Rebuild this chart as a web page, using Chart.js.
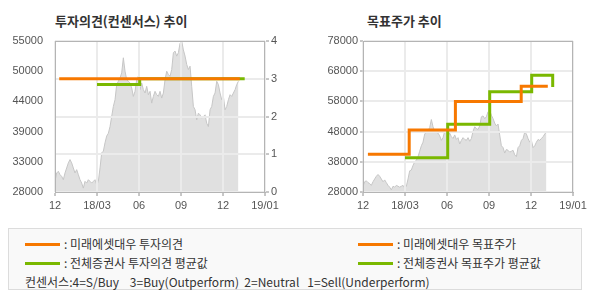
<!DOCTYPE html>
<html>
<head>
<meta charset="utf-8">
<script src="https://cdn.jsdelivr.net/npm/chart.js@4.4.1/dist/chart.umd.min.js"></script>
<style>
    body { margin: 0; width: 590px; height: 300px; background: #fff; position: relative; overflow: hidden;
           font-family: 'Noto Sans CJK KR', sans-serif; }
    .panel { position: absolute; top: 0; width: 295px; height: 222px; }
    .title { position: absolute; top: 11px; font-size: 13px; font-weight: bold; color: #333; white-space: nowrap; }
    .legend { position: absolute; left: 8px; top: 228px; width: 572px; height: 60px; border: 1px solid #dcdcdc;
              background: #f9f9f9; font-size: 12px; color: #333; }
    .item { position: absolute; height: 16px; line-height: 16px; white-space: pre; }
    .ln { display: inline-block; width: 35px; height: 3px; vertical-align: middle; margin-right: 4px; position: relative; top: -1px; }
</style>
</head>
<body>
<div class="title" style="left:55px">투자의견(컨센서스) 추이</div>
<div class="title" style="left:367px">목표주가 추이</div>
<div class="panel" style="left:0"><canvas id="opinionChart" width="295" height="222"></canvas></div>
<div class="panel" style="left:295px"><canvas id="targetChart" width="295" height="222"></canvas></div>
<div class="legend">
    <div class="item" style="left:16px;top:7px"><span class="ln" style="background:#f77800"></span>: 미래에셋대우 투자의견</div>
    <div class="item" style="left:16px;top:26px"><span class="ln" style="background:#7ab800"></span>: 전체증권사 투자의견 평균값</div>
    <div class="item" style="left:349px;top:7px"><span class="ln" style="background:#f77800"></span>: 미래에셋대우 목표주가</div>
    <div class="item" style="left:349px;top:26px"><span class="ln" style="background:#7ab800"></span>: 전체증권사 목표주가 평균값</div>
    <div class="item" style="left:16px;top:45px">컨센서스:4=S/Buy    3=Buy(Outperform)  2=Neutral   1=Sell(Underperform)</div>
</div>
<script>
// x axis runs in months from 2017/12 (0) to 2019/03 (15)
const xTickLabels = ['12', '18/03', '06', '09', '12', '19/01'];
const opinionTickLabels = ['28000', '33000', '39000', '44000', '50000', '55000'];
const targetTickLabels = ['28000', '38000', '48000', '58000', '68000', '78000'];

// closing price, evenly spaced from month 0 to priceEndMonth
const priceEndMonth = 13.1;
const prices = [
    29900, 31400, 31700, 31100, 30800, 30200, 31400, 32300, 33200, 33800,
    33200, 32300, 31400, 32000, 31100, 30200, 29600, 28700, 29900, 29600,
    30200, 29900, 29600, 29900, 30200, 29300, 29900, 32300, 35000, 35300,
    36800, 38000, 38500, 39700, 41500, 43300, 44500, 47200, 47800, 48400,
    49300, 52000, 49600, 48100, 47800, 47500, 46600, 45100, 46000, 48100,
    48700, 46300, 47500, 46300, 45700, 46900, 45400, 46000, 43900, 45100,
    46000, 45400, 45100, 46000, 44800, 45700, 48100, 49600, 49000, 48700,
    49900, 52900, 53200, 52300, 52900, 54600, 55000, 53400, 52300, 50800,
    49900, 50500, 46900, 43300, 42700, 40900, 42100, 41800, 41200, 41500,
    41800, 40300, 39700, 42700, 43300, 45100, 45700, 47800, 47200, 45700,
    44500, 45100, 42700, 43300, 44500, 45400, 45100, 45700, 46300, 47200,
    47800
];

// investment opinion (right axis, 0-4)
const miraeOpinionX = [0.3, 13.2];
const miraeOpinion = [3, 3];
const avgOpinionX = [3.0, 6.05, 13.55];
const avgOpinion = [2.85, 3, 3];

// target price
const miraeTargetX = [0.35, 3.3, 6.6, 11.3, 13.2];
const miraeTarget = [40500, 48500, 58000, 63000, 63000];
const avgTargetX = [3.0, 6.05, 9.05, 12.05, 13.55];
const avgTarget = [39300, 50400, 61200, 66700, 62800];

const ORANGE = '#f77800';
const GREEN = '#7ab800';
const GRID = '#ebebeb';
const AXIS = '#b4b4b4';
const TICK_FONT = { family: "'Liberation Sans', Arial, sans-serif", size: 11 };
const TICK_COLOR = '#555';

const pricePoints = prices.map((p, i) => ({ x: i * priceEndMonth / (prices.length - 1), y: p }));
const zip = (xs, ys) => xs.map((x, i) => ({ x, y: ys[i] }));

function fixSize(prop, value) {
    return scale => { scale[prop] = value; };
}

// grid is drawn over the price area, below the lines; frame around the plot
const gridOverArea = {
    id: 'gridOverArea',
    afterDatasetDraw(chart, args) {
        if (args.meta.label !== 'price') return;
        Object.values(chart.scales).forEach(s => {
            if (s.options.grid.display) s.drawGrid(chart.chartArea);
        });
    },
    afterDatasetsDraw(chart) {
        const a = chart.chartArea;
        const ctx = chart.ctx;
        ctx.save();
        ctx.strokeStyle = AXIS;
        ctx.lineWidth = 1;
        ctx.strokeRect(Math.round(a.left) + 0.5, Math.round(a.top) + 0.5,
            Math.round(a.right - a.left) - 1, Math.round(a.bottom - a.top));
        ctx.restore();
    }
};

function lineSet(label, points, color, axis) {
    return {
        label, data: points, borderColor: color, borderWidth: 3, pointRadius: 0,
        stepped: 'before', fill: false, yAxisID: axis
    };
}

function priceSet(axis) {
    return {
        label: 'price', data: pricePoints, borderColor: '#c6c6c6', borderWidth: 1,
        backgroundColor: '#e0e0e0', fill: 'start', pointRadius: 0, tension: 0, yAxisID: axis
    };
}

const xScale = {
    type: 'linear', min: 0, max: 15,
    afterBuildTicks: s => { s.ticks = xTickLabels.map((_, i) => ({ value: i * 3 })); },
    afterFit: fixSize('height', 30),
    ticks: { font: TICK_FONT, color: TICK_COLOR, padding: 3, maxRotation: 0, autoSkip: false,
             callback: (v, i) => xTickLabels[i] },
    grid: { color: GRID, lineWidth: 2, tickLength: 4, tickColor: AXIS, tickWidth: 1 },
    border: { color: AXIS }
};

const common = {
    responsive: false, animation: false,
    plugins: { legend: { display: false }, tooltip: { enabled: false }, title: { display: false } },
    elements: { line: { borderJoinStyle: 'miter', borderCapStyle: 'butt' } }
};

new Chart(document.getElementById('opinionChart'), {
    type: 'line',
    data: {
        datasets: [
            lineSet('미래에셋대우 투자의견', zip(miraeOpinionX, miraeOpinion), ORANGE, 'y2'),
            lineSet('전체증권사 투자의견 평균값', zip(avgOpinionX, avgOpinion), GREEN, 'y2'),
            priceSet('y')
        ]
    },
    options: {
        ...common,
        layout: { padding: { top: 41, left: 0, right: 0, bottom: 0 } },
        scales: {
            x: xScale,
            y: {
                position: 'left', min: 28000, max: 55000,
                afterBuildTicks: s => { s.ticks = opinionTickLabels.map((_, i) => ({ value: 28000 + i * 5400 })); },
                afterFit: fixSize('width', 55),
                ticks: { font: TICK_FONT, color: TICK_COLOR, padding: 4, callback: (v, i) => opinionTickLabels[i] },
                grid: { display: false },
                border: { color: AXIS }
            },
            y2: {
                position: 'right', min: 0, max: 4,
                afterFit: fixSize('width', 30),
                ticks: { font: TICK_FONT, color: TICK_COLOR, padding: 2, stepSize: 1 },
                grid: { color: GRID, lineWidth: 2, tickLength: 4, tickColor: AXIS, tickWidth: 1 },
                border: { color: AXIS }
            }
        }
    },
    plugins: [gridOverArea]
});

new Chart(document.getElementById('targetChart'), {
    type: 'line',
    data: {
        datasets: [
            lineSet('미래에셋대우 목표주가', zip(miraeTargetX, miraeTarget), ORANGE, 'y'),
            lineSet('전체증권사 목표주가 평균값', zip(avgTargetX, avgTarget), GREEN, 'y'),
            priceSet('y')
        ]
    },
    options: {
        ...common,
        layout: { padding: { top: 41, left: 0, right: 17, bottom: 0 } },
        scales: {
            x: xScale,
            y: {
                position: 'left', min: 28000, max: 78000,
                afterBuildTicks: s => { s.ticks = targetTickLabels.map(v => ({ value: Number(v) })); },
                afterFit: fixSize('width', 68),
                ticks: { font: TICK_FONT, color: TICK_COLOR, padding: 2, callback: (v, i) => targetTickLabels[i] },
                grid: { color: GRID, lineWidth: 2, tickLength: 3, tickColor: AXIS, tickWidth: 1 },
                border: { color: AXIS }
            }
        }
    },
    plugins: [gridOverArea]
});
</script>
</body>
</html>
